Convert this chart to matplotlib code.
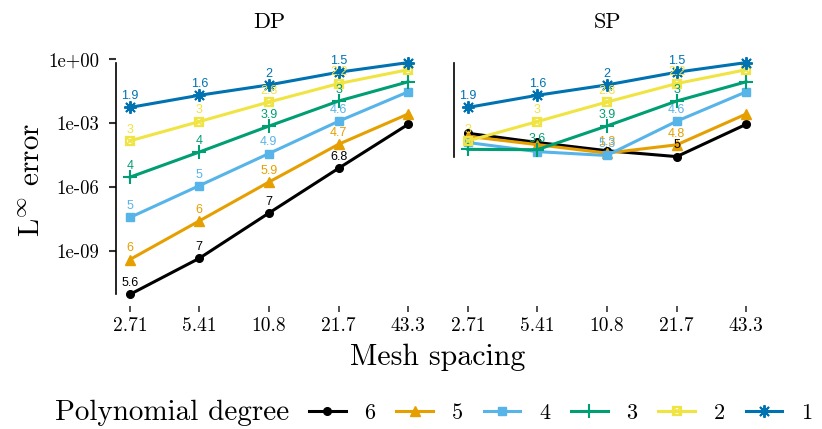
import matplotlib.pyplot as plt
from matplotlib.legend_handler import HandlerTuple
from matplotlib.ticker import NullLocator
import numpy as np

# data
mesh = [2.71, 5.41, 10.8, 21.7, 43.3]
mesh_labels = ['2.71', '5.41', '10.8', '21.7', '43.3']
degrees = [6, 5, 4, 3, 2, 1]
colors = {6: '#000000', 5: '#E69F00', 4: '#56B4E9', 3: '#009E73', 2: '#F0E442', 1: '#0072B2'}

dp_err = {
    6: [9.8e-12, 4.8e-10, 6.2e-8, 7.9e-6, 8.9e-4],
    5: [4.2e-10, 2.7e-8, 1.75e-6, 1.05e-4, 2.7e-3],
    4: [3.9e-8, 1.2e-6, 3.8e-5, 1.25e-3, 2.95e-2],
    3: [3.0e-6, 4.5e-5, 7.3e-4, 1.1e-2, 8.7e-2],
    2: [1.5e-4, 1.2e-3, 9.8e-3, 7.2e-2, 0.32],
    1: [5.5e-3, 2.04e-2, 6.2e-2, 0.245, 0.69],
}
sp_err = {
    6: [3.4e-4, 1.26e-4, 5.2e-5, 2.75e-5, 8.9e-4],
    5: [2.45e-4, 1.0e-4, 4.0e-5, 9.8e-5, 2.7e-3],
    4: [1.26e-4, 4.7e-5, 3.1e-5, 1.25e-3, 2.95e-2],
    3: [6.0e-5, 5.8e-5, 7.4e-4, 1.1e-2, 8.7e-2],
    2: [1.5e-4, 1.2e-3, 9.8e-3, 7.2e-2, 0.32],
    1: [5.5e-3, 2.04e-2, 6.2e-2, 0.245, 0.69],
}

# convergence rates printed next to the points
dp_rates = {
    6: ['5.6', '7', '7', '6.8'],
    5: ['6', '6', '5.9', '4.7'],
    4: ['5', '5', '4.9', '4.6'],
    3: ['4', '4', '3.9', '3'],
    2: ['3', '3', '2.8', '2.2'],
    1: ['1.9', '1.6', '2', '1.5'],
}
sp_rates = {
    6: ['', '', '', '5'],
    5: ['', '', '1.3', '4.8'],
    4: ['', '', '5.3', '4.6'],
    3: ['', '3.6', '3.9', '3'],
    2: ['3', '3', '2.8', '2.2'],
    1: ['1.9', '1.6', '2', '1.5'],
}

yticks = [1e0, 1e-3, 1e-6, 1e-9]
ytick_labels = ['1e+00', '1e-03', '1e-06', '1e-09']

plt.rcParams['font.family'] = 'cmr10'
plt.rcParams['mathtext.fontset'] = 'cm'
plt.rcParams['axes.unicode_minus'] = False

markers = {
    6: dict(marker='o', ms=5.5),
    5: dict(marker='^', ms=7.5),
    4: dict(marker='s', ms=6),
    3: dict(marker='+', ms=10, mew=1.5),
    2: dict(marker='s', ms=6, mfc='none', mew=1.6),
    1: dict(marker=(8, 2, 0), ms=9, mew=1.4),
}

W, H = 822, 429
fig = plt.figure(figsize=(W / 100, H / 100), dpi=100)

def px_axes(l, r, t, b):
    return fig.add_axes([l / W, 1 - b / H, (r - l) / W, (b - t) / H])

ax1 = px_axes(116, 422, 51, 306)
ax2 = px_axes(454, 760, 51, 306)

all_vals = np.log10([v for d in (dp_err, sp_err) for s in d.values() for v in s])
ypad = 0.05 * (all_vals.max() - all_vals.min())
ylim = (10 ** (all_vals.min() - ypad), 10 ** (all_vals.max() + ypad))
xl = np.log2(mesh)
xpad = 0.05 * (xl.max() - xl.min())
xlim = (2 ** (xl.min() - xpad), 2 ** (xl.max() + xpad))

handles = {}
for ax, errs, rates in [(ax1, dp_err, dp_rates), (ax2, sp_err, sp_rates)]:
    for d in degrees:
        c = colors[d]
        ln, = ax.plot(mesh, errs[d], color=c, lw=2.2, mec=c, **markers[d])
        if d == 2:
            x_ov, = ax.plot(mesh, errs[d], ls='none', marker='x', ms=4, mew=1.2, color=c)
            handles[d] = (ln, x_ov)
        else:
            handles[d] = ln
        for i, lab in enumerate(rates[d]):
            if lab:
                ax.annotate(lab, (mesh[i], errs[d][i]), xytext=(0, 8), textcoords='offset points',
                            ha='center', va='center', color=c, fontsize=9, family='Liberation Sans')

    ax.set_xscale('log', base=2)
    ax.set_yscale('log')
    ax.set_xlim(xlim)
    ax.set_ylim(ylim)
    ax.set_xticks(mesh)
    ax.set_xticklabels(mesh_labels, fontsize=14)
    ax.xaxis.set_minor_locator(NullLocator())
    ax.yaxis.set_minor_locator(NullLocator())
    ax.tick_params(axis='x', length=4, width=1.2, pad=4, color='#333333')
    for s in ['top', 'right', 'bottom']:
        ax.spines[s].set_visible(False)
    ax.spines['left'].set_linewidth(1.2)
    vals = [v for s in errs.values() for v in s]
    ax.spines['left'].set_bounds(min(vals), max(vals))
    ax.set_facecolor('none')

ax1.set_yticks(yticks)
ax1.set_yticklabels(ytick_labels, fontsize=13.5)
ax1.tick_params(axis='y', length=5, width=1.5, pad=7, color='#333333')
ax2.set_yticks([])

fig.text((116 + 422) / 2 / W, 1 - 22 / H, 'DP', ha='center', va='center', fontsize=16)
fig.text((454 + 760) / 2 / W, 1 - 22 / H, 'SP', ha='center', va='center', fontsize=16)
fig.text(438 / W, 1 - 357 / H, 'Mesh spacing', ha='center', va='center', fontsize=21.5)
fig.text(33 / W, 1 - 180 / H, r'$\mathrm{L}^{\infty}$ error', ha='center', va='center',
         rotation=90, fontsize=21)

# legend along the bottom
fig.text(55 / W, 1 - 413 / H, 'Polynomial degree', ha='left', va='center', fontsize=21)
fig.legend([handles[d] for d in degrees], [str(d) for d in degrees],
           loc='center left', bbox_to_anchor=(309 / W, 1 - 413 / H), ncol=6,
           frameon=False, fontsize=16, handlelength=1.65, handletextpad=0.85,
           columnspacing=0.93, borderpad=0, borderaxespad=0,
           handler_map={tuple: HandlerTuple(ndivide=1, pad=0)})

plt.savefig('out.png', dpi=100)
